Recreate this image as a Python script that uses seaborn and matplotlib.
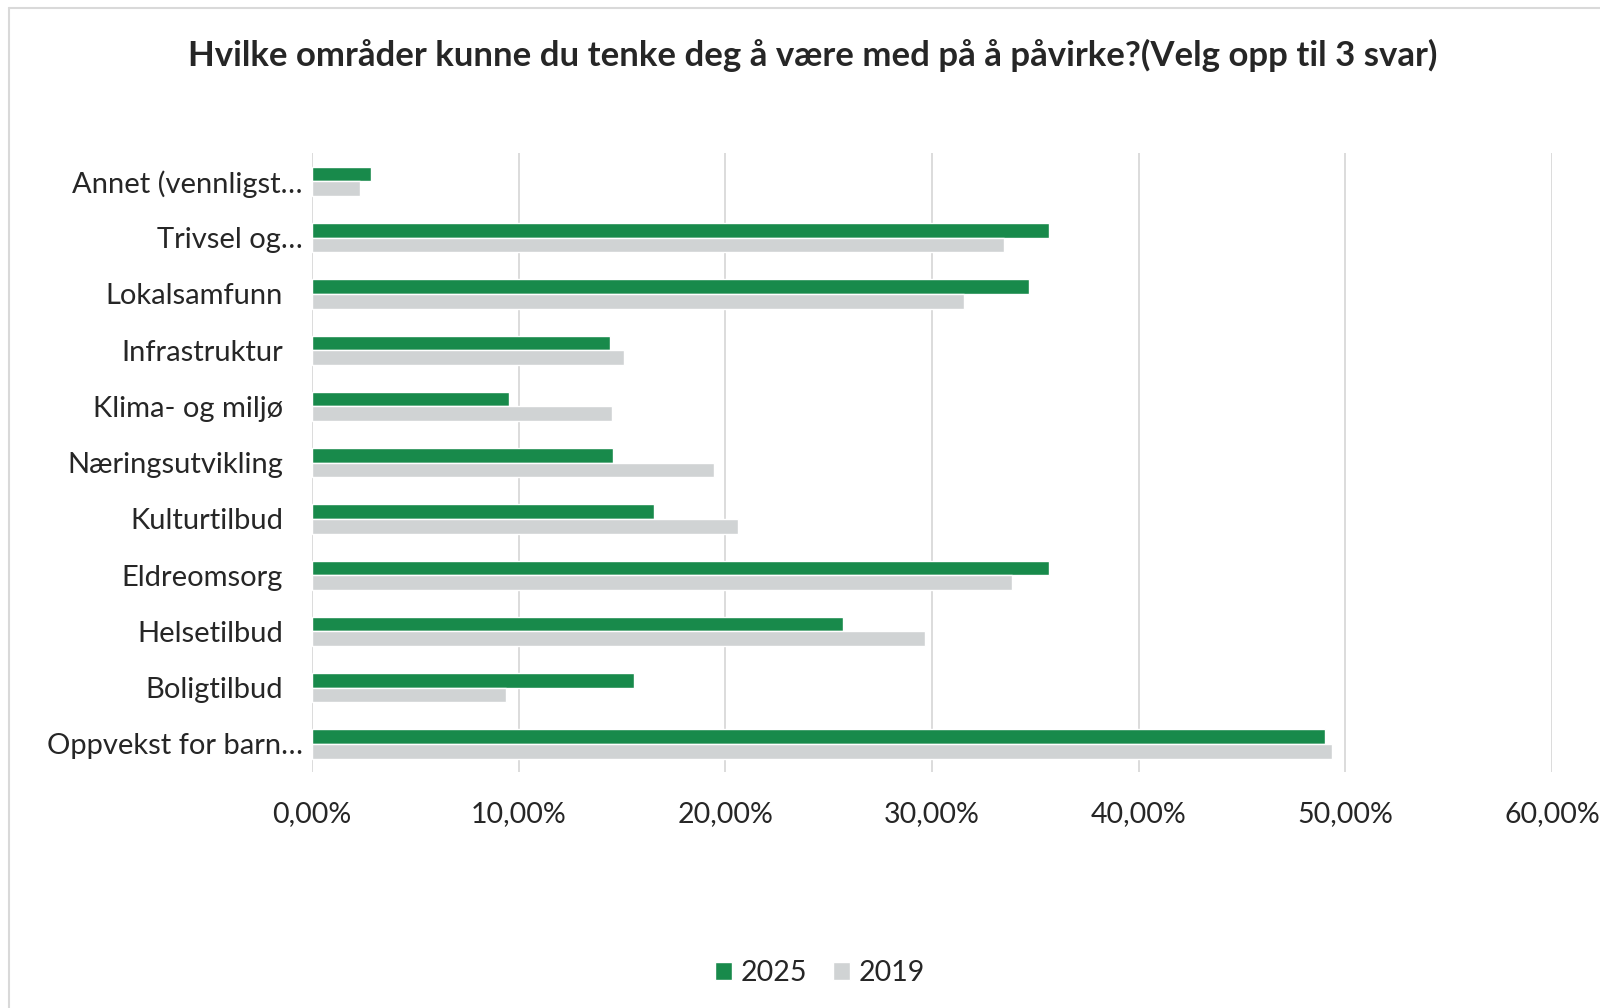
import matplotlib
matplotlib.use("Agg")
import matplotlib.pyplot as plt
import matplotlib.transforms as mtransforms
from matplotlib.lines import Line2D
import pandas as pd
import seaborn as sns

categories = [
    "Annet (vennligst…",
    "Trivsel og…",
    "Lokalsamfunn",
    "Infrastruktur",
    "Klima- og miljø",
    "Næringsutvikling",
    "Kulturtilbud",
    "Eldreomsorg",
    "Helsetilbud",
    "Boligtilbud",
    "Oppvekst for barn…",
]
values_2025 = [2.87, 35.66, 34.70, 14.43, 9.55, 14.58, 16.53, 35.66, 25.70, 15.57, 49.00]
values_2019 = [2.34, 33.50, 31.55, 15.10, 14.54, 19.45, 20.60, 33.85, 29.66, 9.40, 49.37]
years = ["2025", "2019"]
x_ticks = [0, 10, 20, 30, 40, 50, 60]
x_tick_labels = ["0,00%", "10,00%", "20,00%", "30,00%", "40,00%", "50,00%", "60,00%"]
title = "Hvilke områder kunne du tenke deg å være med på å påvirke?(Velg opp til 3 svar)"

green = "#188a4b"
grey = "#d0d3d4"

df = pd.DataFrame({
    "kategori": categories * 2,
    "verdi": values_2025 + values_2019,
    "år": [years[0]] * len(categories) + [years[1]] * len(categories),
})

sns.set_theme(style="white")
plt.rcParams["font.family"] = ["Lato", "DejaVu Sans"]

fig = plt.figure(figsize=(16, 10.08), dpi=100)
ax = fig.add_axes([0.195, 0.234, 0.775, 0.614])

sns.barplot(data=df, y="kategori", x="verdi", hue="år", hue_order=years,
            order=categories, orient="h", palette=[green, grey],
            width=0.52, gap=0, saturation=1, ax=ax)

ax.set_xlim(0, 60)
ax.set_xticks(x_ticks)
ax.set_xticklabels(x_tick_labels, fontsize=20.5)
ax.set_xlabel("")
ax.set_ylabel("")
ax.grid(axis="x", color="#d9d9d9", linewidth=1.3)
ax.set_axisbelow(True)
for s in ax.spines.values():
    s.set_visible(False)
ax.tick_params(axis="both", length=0)
ax.tick_params(axis="x", pad=21)
ax.tick_params(axis="y", pad=6.5, labelsize=21)

# labels without ellipsis sit further from the axis
shift = mtransforms.ScaledTranslation(-20 / 100, 0, fig.dpi_scale_trans)
for lbl in ax.get_yticklabels():
    if not lbl.get_text().endswith("…"):
        lbl.set_transform(lbl.get_transform() + shift)

handles, labels = ax.get_legend_handles_labels()
ax.get_legend().remove()
fig.legend(handles, labels, loc="center", bbox_to_anchor=(0.5125, 0.035),
           ncol=2, frameon=False, fontsize=20.5, handlelength=0.6,
           handleheight=0.6, handletextpad=0.3, columnspacing=0.9)

fig.text(0.508, 0.945, title, ha="center", va="center",
         fontsize=25, fontweight="bold")

# chart frame
fig.add_artist(Line2D([9 / 1600, 9 / 1600], [0, 1 - 8 / 1008],
                      transform=fig.transFigure, color="#d9d9d9", lw=1.5))
fig.add_artist(Line2D([9 / 1600, 1], [1 - 8 / 1008, 1 - 8 / 1008],
                      transform=fig.transFigure, color="#d9d9d9", lw=1.5))

fig.savefig("out.png", dpi=100, facecolor="white")
